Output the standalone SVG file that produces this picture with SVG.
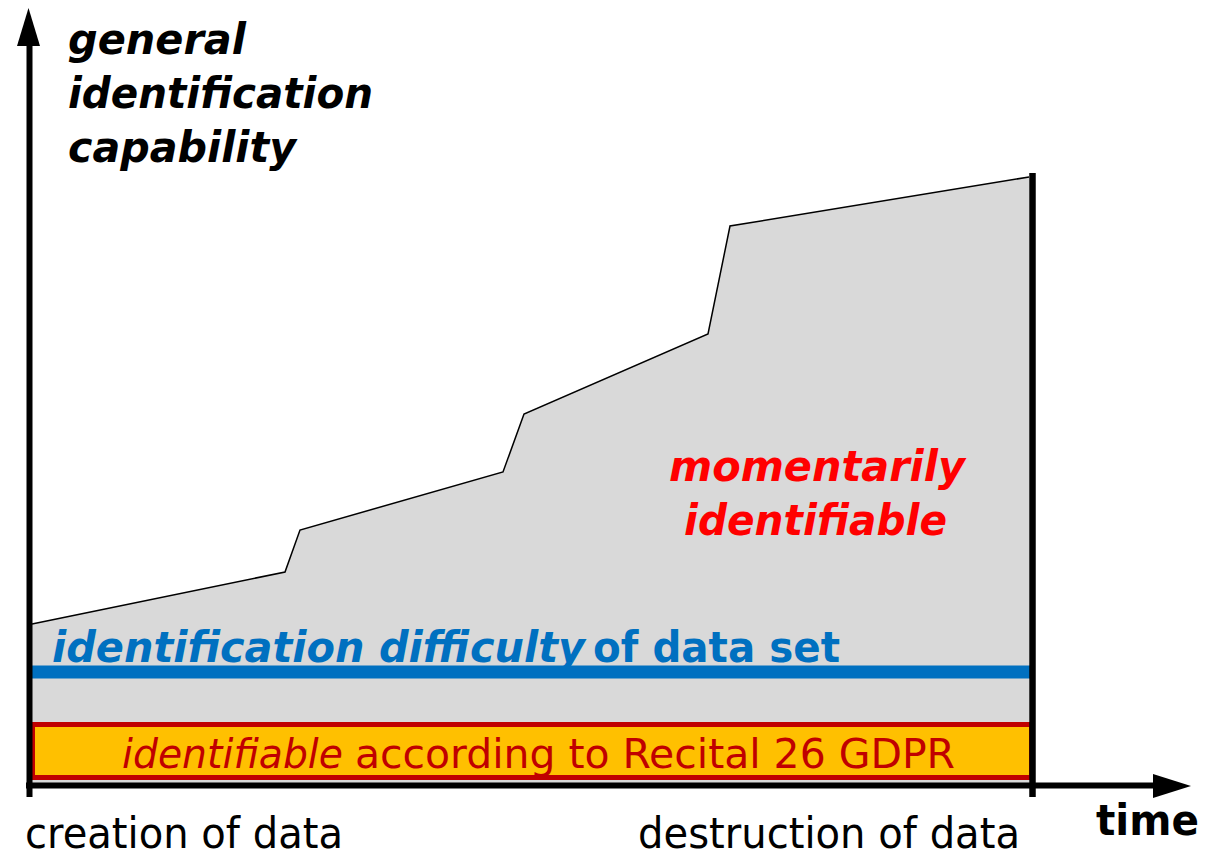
<svg xmlns="http://www.w3.org/2000/svg" width="1214" height="857" viewBox="0 0 1214 857">
<style>
text{font-family:"DejaVu Sans","Verdana",sans-serif;}
.bi{font-weight:bold;font-style:italic;}
.b{font-weight:bold;}
.i{font-style:italic;}
.blk{fill:#000;}
.blue{fill:#0070C0;}
.red{fill:#FF0000;}
.dred{fill:#C00000;}
.axis{stroke:#000;stroke-width:6;fill:none;}
</style>
<rect width="1214" height="857" fill="#fff"/>
<g id="area">
<polygon points="32,624 285,572 300,530 503,472 524,414 708,334 730,226 1029,177 1029,785 32,785" fill="#D9D9D9" stroke="none"/>
<polyline points="32,624 285,572 300,530 503,472 524,414 708,334 730,226 1029,177" fill="none" stroke="#000" stroke-width="1.5" stroke-linejoin="miter"/>
</g>
<g id="difficulty">
<line x1="32" y1="672" x2="1030" y2="672" stroke="#0070C0" stroke-width="13"/>
<text class="bi blue" x="52" y="662" font-size="42" textLength="533" lengthAdjust="spacingAndGlyphs">identification difficulty</text>
<text class="b blue" x="593" y="662" font-size="42" textLength="247" lengthAdjust="spacingAndGlyphs">of data set</text>
</g>
<g id="gdpr">
<rect x="32.5" y="724.5" width="999" height="53" fill="#FFC000" stroke="#C00000" stroke-width="5"/>
<text class="i dred" x="122" y="768" font-size="41" textLength="221" lengthAdjust="spacingAndGlyphs">identifiable</text>
<text class="dred" x="355" y="768" font-size="41" textLength="600" lengthAdjust="spacingAndGlyphs">according to Recital 26 GDPR</text>
</g>
<g id="axes">
<line class="axis" x1="29.5" y1="44" x2="29.5" y2="797"/>
<polygon points="28.5,8 17,46 40,46" fill="#000"/>
<line class="axis" x1="26" y1="785.5" x2="1156" y2="785.5"/>
<polygon points="1191,786 1153,774 1153,798" fill="#000"/>
<line x1="1032.5" y1="173" x2="1032.5" y2="797" stroke="#000" stroke-width="6.5"/>
</g>
<g id="ylabel">
<text class="bi blk" x="68" y="54" font-size="42" textLength="178" lengthAdjust="spacingAndGlyphs">general</text>
<text class="bi blk" x="68" y="108" font-size="42" textLength="305" lengthAdjust="spacingAndGlyphs">identification</text>
<text class="bi blk" x="68" y="162" font-size="42" textLength="228" lengthAdjust="spacingAndGlyphs">capability</text>
</g>
<g id="momentary">
<text class="bi red" x="669" y="481" font-size="42" textLength="296" lengthAdjust="spacingAndGlyphs">momentarily</text>
<text class="bi red" x="684" y="535" font-size="42" textLength="263" lengthAdjust="spacingAndGlyphs">identifiable</text>
</g>
<g id="xlabels">
<text class="blk" x="25" y="848" font-size="42" textLength="318" lengthAdjust="spacingAndGlyphs">creation of data</text>
<text class="blk" x="638" y="848" font-size="42" textLength="382" lengthAdjust="spacingAndGlyphs">destruction of data</text>
<text class="b blk" x="1096" y="835" font-size="42" textLength="103" lengthAdjust="spacingAndGlyphs">time</text>
</g>
</svg>
